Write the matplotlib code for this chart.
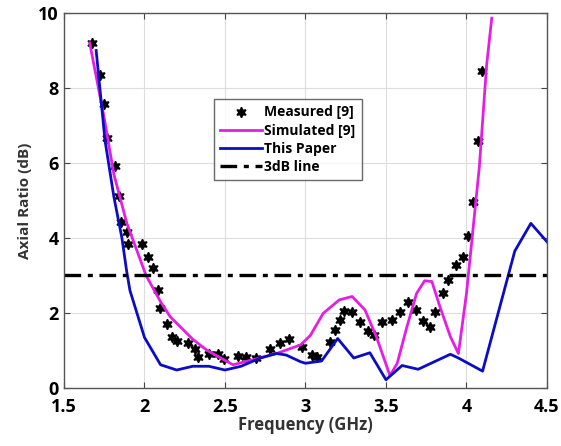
import matplotlib
matplotlib.use("Agg")
import matplotlib.pyplot as plt

# measured axial ratio from [9]
meas_f = [1.676, 1.724, 1.748, 1.765, 1.817, 1.842, 1.852, 1.889, 1.90, 1.982,
          2.024, 2.05, 2.082, 2.096, 2.138, 2.169, 2.20, 2.268, 2.314, 2.334,
          2.40, 2.458, 2.496, 2.583, 2.628, 2.690, 2.78, 2.84, 2.90, 2.976,
          3.038, 3.07, 3.152, 3.183, 3.214, 3.241, 3.287, 3.339, 3.39, 3.427,
          3.473, 3.535, 3.587, 3.639, 3.684, 3.728, 3.773, 3.804, 3.852, 3.887,
          3.935, 3.976, 4.011, 4.038, 4.073, 4.098]
meas_ar = [9.21, 8.35, 7.57, 6.67, 5.92, 5.13, 4.43, 4.15, 3.83, 3.83,
           3.50, 3.21, 2.61, 2.14, 1.72, 1.37, 1.25, 1.19, 1.04, 0.83,
           0.92, 0.92, 0.77, 0.85, 0.82, 0.79, 1.03, 1.21, 1.30, 1.10,
           0.88, 0.82, 1.24, 1.55, 1.81, 2.06, 2.02, 1.77, 1.52, 1.41,
           1.77, 1.81, 2.03, 2.30, 2.08, 1.79, 1.63, 2.03, 2.54, 2.88,
           3.28, 3.48, 4.06, 4.97, 6.59, 8.45]

# simulated axial ratio from [9]
sim_f = [1.66, 1.75, 1.81, 1.89, 2.01, 2.10, 2.16, 2.30, 2.39, 2.55,
         2.67, 2.82, 2.97, 3.03, 3.11, 3.21, 3.29, 3.37, 3.44, 3.525,
         3.57, 3.63, 3.69, 3.74, 3.785, 3.835, 3.90, 3.95, 4.00, 4.08,
         4.125, 4.157]
sim_ar = [9.2, 7.2, 5.7, 4.4, 3.0, 2.3, 1.9, 1.3, 1.0, 0.62,
          0.75, 0.92, 1.15, 1.4, 1.99, 2.35, 2.44, 2.08, 1.37, 0.33,
          0.66, 1.63, 2.52, 2.86, 2.84, 2.17, 1.37, 0.92, 2.52, 5.9,
          8.6, 9.86]

# proposed antenna
ours_f = [1.70, 1.755, 1.81, 1.86, 1.89, 1.91, 2.0, 2.1, 2.2, 2.3,
          2.4, 2.5, 2.6, 2.72, 2.82, 2.88, 2.97, 3.0, 3.1, 3.2,
          3.3, 3.4, 3.5, 3.6, 3.7, 3.8, 3.9, 3.95, 4.1, 4.3,
          4.4, 4.5]
ours_ar = [9.0, 6.6, 5.1, 4.0, 3.1, 2.6, 1.35, 0.62, 0.48, 0.58,
           0.58, 0.48, 0.58, 0.8, 0.92, 0.88, 0.70, 0.66, 0.72, 1.32,
           0.8, 0.94, 0.22, 0.6, 0.5, 0.7, 0.9, 0.8, 0.45, 3.65,
           4.39, 3.9]

ref_level = 3.0

plt.rcParams['font.family'] = ['Open Sans', 'DejaVu Sans']
plt.rcParams['font.weight'] = 'bold'

fig = plt.figure(figsize=(5.61, 4.46), dpi=100)
ax = fig.add_axes([0.114, 0.130, 0.861, 0.841])

ax.plot(meas_f, meas_ar, linestyle='none', marker=(6, 1, 0), markersize=7.5,
        color='black', label='Measured [9]')
ax.plot(sim_f, sim_ar, color='#e41ee4', lw=2.0, label='Simulated [9]')
ax.plot(ours_f, ours_ar, color='#0c0cc4', lw=2.0, label='This Paper')
ax.axhline(ref_level, color='black', lw=2.4, ls=(0, (5, 2, 1.5, 2)), label='3dB line')

ax.set_xlim(1.5, 4.5)
ax.set_ylim(0, 10)
ax.set_xticks([1.5, 2, 2.5, 3, 3.5, 4, 4.5])
ax.set_xticklabels(['1.5', '2', '2.5', '3', '3.5', '4', '4.5'])
ax.set_yticks([0, 2, 4, 6, 8, 10])
ax.tick_params(direction='in', labelsize=13, length=4, color='#444444',
               top=True, right=True)
ax.tick_params(axis='x', pad=7)
ax.tick_params(axis='y', pad=4)
for lab in ax.get_xticklabels() + ax.get_yticklabels():
    lab.set_fontweight('bold')
ax.grid(True, color='#dddddd', lw=0.8)
for sp in ax.spines.values():
    sp.set_color('#555555')
    sp.set_linewidth(1.0)

ax.set_xlabel('Frequency (GHz)', fontsize=12, fontweight='bold', color='#333333', labelpad=0)
ax.set_ylabel('Axial Ratio (dB)', fontsize=11, fontweight='bold', color='#333333', labelpad=4)

leg = ax.legend(loc='upper left', bbox_to_anchor=(0.31, 0.77), fontsize=10,
                frameon=True, fancybox=False, handlelength=3.0, handletextpad=0.2,
                borderpad=0.45, labelspacing=0.3, borderaxespad=0)
leg.get_frame().set_edgecolor('#444444')
leg.get_frame().set_linewidth(1.0)
for t in leg.get_texts():
    t.set_fontweight('bold')

fig.savefig('out.png', dpi=100)
